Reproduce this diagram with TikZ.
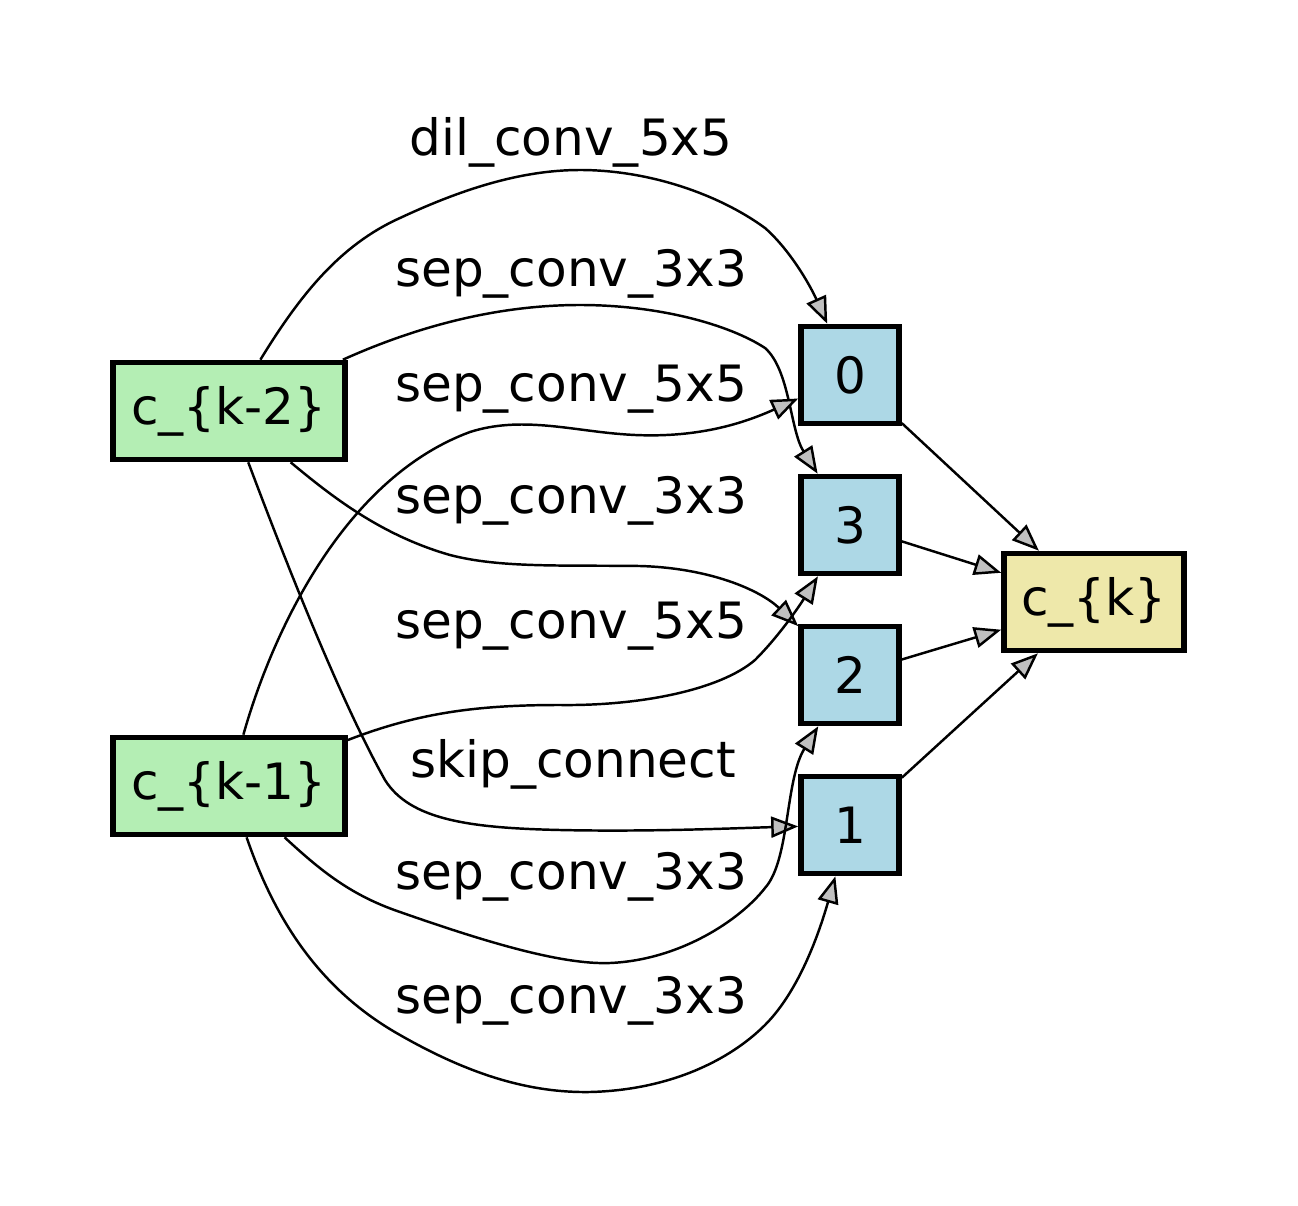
\documentclass[tikz,border=0pt]{standalone}
\usepackage{fontspec}
\setmainfont{DejaVu Sans}
\usetikzlibrary{arrows.meta}
\definecolor{inputgreen}{HTML}{B4EEB4}
\definecolor{stepblue}{HTML}{ADD8E6}
\definecolor{outgold}{HTML}{EEE8AA}
\definecolor{tipgray}{HTML}{C0C0C0}
\tikzset{
  box/.style={draw=black, line width=3.2pt, inner sep=0pt,
    font=\fontsize{28.5}{34}\selectfont, minimum height=1.94cm},
  inbox/.style={box, fill=inputgreen, minimum width=4.64cm},
  stepbox/.style={box, fill=stepblue, minimum width=1.96cm},
  outbox/.style={box, fill=outgold, minimum width=3.6cm},
  edge/.style={draw=black, line width=1.4pt,
    -{Triangle[length=0.54cm,width=0.42cm,fill=tipgray]}},
  oplabel/.style={font=\fontsize{28.5}{34}\selectfont, inner sep=0pt}
}
\begin{document}
\begin{tikzpicture}[x=0.02cm, y=-0.02cm]
  \useasboundingbox (0,0) rectangle (1298,1206);

  % cell inputs, intermediate steps and output
  \node[inbox]   (k2) at (229,411) {c\_\{k-2\}};
  \node[inbox]   (k1) at (229,786) {c\_\{k-1\}};
  \node[stepbox] (n0) at (850,375) {0};
  \node[stepbox] (n3) at (850,525) {3};
  \node[stepbox] (n2) at (850,675) {2};
  \node[stepbox] (n1) at (850,825) {1};
  \node[outbox]  (ck) at (1094,602) {c\_\{k\}};

  % operation edges
  \draw[edge] (k2) .. controls (300,295) and (340,245) .. (400,218)
     .. controls (460,190) and (520,170) .. (580,170)
     .. controls (650,170) and (720,195) .. (765,228)
     .. controls (790,250) and (810,285) .. (n0);
  \node[oplabel] (l1) at (571,142) {dil\_conv\_5x5};

  \draw[edge] (k2) .. controls (420,325) and (500,305) .. (580,305)
     .. controls (660,305) and (730,325) .. (765,348)
     .. controls (790,370) and (790,430) .. (n3);
  \node[oplabel] (l2) at (571,274) {sep\_conv\_3x3};

  \draw[edge] (k1) .. controls (270,640) and (340,480) .. (470,432)
     .. controls (520,416) and (570,430) .. (620,434)
     .. controls (690,440) and (740,425) .. (n0);
  \node[oplabel] (l3) at (571,389) {sep\_conv\_5x5};

  \draw[edge] (k2) .. controls (330,495) and (380,535) .. (450,555)
     .. controls (500,568) and (560,565) .. (640,566)
     .. controls (710,568) and (760,590) .. (n2);
  \node[oplabel] (l4) at (571,501) {sep\_conv\_3x3};

  \draw[edge] (k1) .. controls (420,712) and (480,705) .. (560,705)
     .. controls (640,706) and (720,690) .. (755,660)
     .. controls (780,635) and (800,605) .. (n3);
  \node[oplabel] (l5) at (571,626) {sep\_conv\_5x5};

  \draw[edge] (k2) .. controls (285,560) and (340,700) .. (385,780)
     .. controls (410,820) and (470,828) .. (560,830)
     .. controls (650,832) and (740,828) .. (n1);
  \node[oplabel] (l6) at (573,764) {skip\_connect};

  \draw[edge] (k1) .. controls (320,870) and (350,895) .. (400,912)
     .. controls (480,940) and (560,965) .. (610,963)
     .. controls (680,960) and (740,920) .. (765,888)
     .. controls (790,860) and (785,780) .. (n2);
  \node[oplabel] (l7) at (571,877) {sep\_conv\_3x3};

  \draw[edge] (k1) .. controls (275,920) and (320,990) .. (400,1035)
     .. controls (470,1075) and (530,1093) .. (590,1092)
     .. controls (670,1090) and (730,1060) .. (765,1025)
     .. controls (800,990) and (820,930) .. (n1);
  \node[oplabel] (l8) at (571,1001) {sep\_conv\_3x3};

  % steps feeding the output
  \draw[edge] (n0) -- (ck);
  \draw[edge] (n3) -- (ck);
  \draw[edge] (n2) -- (ck);
  \draw[edge] (n1) -- (ck);
\end{tikzpicture}
\end{document}
